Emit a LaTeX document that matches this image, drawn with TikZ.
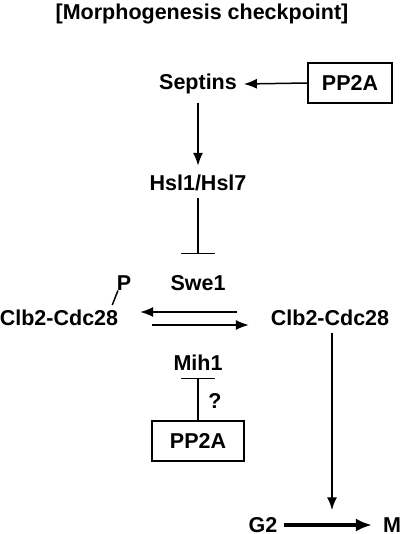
\documentclass[tikz,border=0pt]{standalone}
\usepackage{fontspec}
\setmainfont{Liberation Sans}
\usetikzlibrary{arrows.meta}
\tikzset{
	box/.style={draw, line width=0.7pt, minimum height=20pt, inner sep=0pt},
	inhibit/.style={-{Bar[width=17pt, line width=0.8pt]}, line width=0.75pt},
}
\begin{document}
\begin{tikzpicture}[>={Latex[length=6.5pt, width=5pt]}, x=0.5pt, y=-0.5pt, font=\fontsize{10.75}{12}\selectfont\bfseries]
		\useasboundingbox (0,0) rectangle (400,534);
		\node (title) at (202, 14) {[Morphogenesis checkpoint]};
		\node (septins) at (198, 84) {Septins};
		\node[box, minimum width=42pt] (pptop) at (350, 83) {PP2A};
		\node (hsl) at (198, 183) {Hsl1/Hsl7};
		\node (swe) at (198, 283) {Swe1};
		\node (lc) at (59, 318) {Clb2-Cdc28};
		\node (p) at (124, 283) {P};
		\node (rc) at (330, 318) {Clb2-Cdc28};
		\node (mih) at (198, 363) {Mih1};
		\node (q) at (215, 401) {?};
		\node[box, minimum width=46pt] (ppbot) at (198, 441) {PP2A};
		\node (g2) at (263, 525) {G2};
		\node (m) at (392, 525) {M};
		% connectors
		\draw[->, line width=0.75pt] (pptop.west) -- (septins.east);
		\draw[->, line width=1pt, shorten <=1pt, shorten >=1pt] (septins) -- (hsl);
		\draw[inhibit, shorten >=7pt] (hsl) -- (swe);
		\draw[line width=0.75pt] ([shift={(-13,2)}]lc.north east) -- ([shift={(-6,-7)}]p.south);
		\draw[->, line width=0.75pt, shorten <=13.5pt, shorten >=7.5pt] ([yshift=3pt]rc.west) -- ([yshift=3pt]lc.east);
		\draw[->, line width=0.75pt, shorten <=13.5pt, shorten >=7.5pt] ([yshift=-3.5pt]lc.east) -- ([yshift=-3.5pt]rc.west);
		\draw[inhibit] (ppbot.north) -- (mih.south);
		\draw[->, line width=1pt] ([xshift=1pt]rc.south) -- ([xshift=1pt]rc.south |- g2.north);
		\draw[-{Latex[length=8pt, width=6.5pt]}, line width=2pt, shorten >=2pt] (g2) -- (m);
	\end{tikzpicture}
\end{document}
